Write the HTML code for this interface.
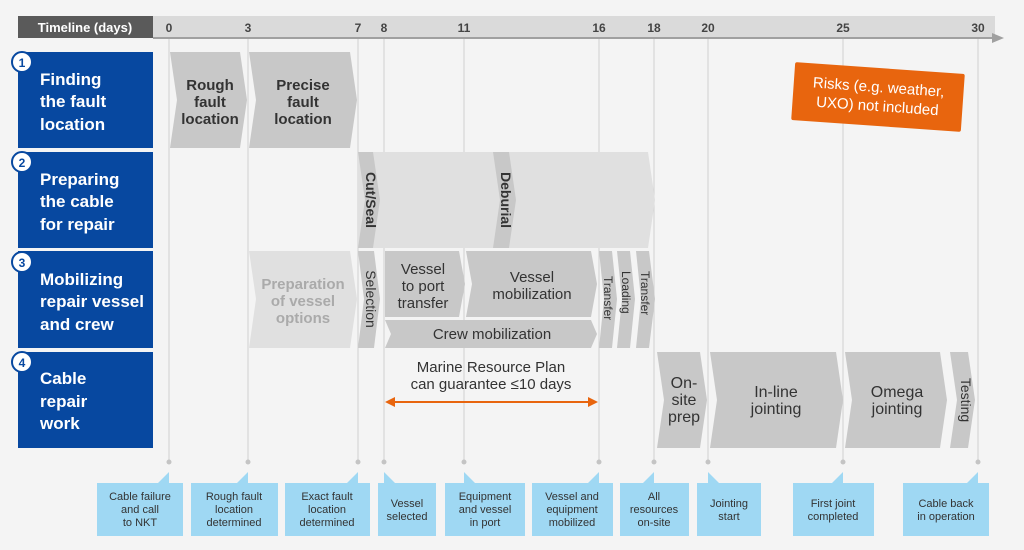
<!DOCTYPE html>
<html><head><meta charset="utf-8"><style>
html,body{margin:0;padding:0;background:#f4f4f4;}
svg{display:block;font-family:"Liberation Sans",sans-serif;}
</style></head><body>
<svg width="1024" height="550" viewBox="0 0 1024 550" xmlns="http://www.w3.org/2000/svg">
<rect width="1024" height="550" fill="#f4f4f4"/>
<!-- header -->
<rect x="153" y="16" width="842" height="22" fill="#dadada"/>
<line x1="153" y1="38" x2="995" y2="38" stroke="#a0a0a0" stroke-width="2"/>
<polygon points="992,33 1004,38 992,43" fill="#a0a0a0"/>
<rect x="18" y="16" width="135" height="22" fill="#5a5a5a"/>
<text x="85" y="32" fill="#fff" font-size="13" font-weight="bold" text-anchor="middle">Timeline (days)</text>
<g font-size="12" font-weight="bold" fill="#444" text-anchor="middle">
<text x="169" y="32">0</text><text x="248" y="32">3</text><text x="358" y="32">7</text><text x="384" y="32">8</text><text x="464" y="32">11</text><text x="599" y="32">16</text><text x="654" y="32">18</text><text x="708" y="32">20</text><text x="843" y="32">25</text><text x="978" y="32">30</text>
</g>
<!-- grid lines -->
<g stroke="#d0d0d0" stroke-width="1">
<line x1="169" y1="39" x2="169" y2="462"/><line x1="248" y1="39" x2="248" y2="462"/><line x1="358" y1="39" x2="358" y2="462"/><line x1="384" y1="39" x2="384" y2="462"/><line x1="464" y1="39" x2="464" y2="462"/><line x1="599" y1="39" x2="599" y2="462"/><line x1="654" y1="39" x2="654" y2="462"/><line x1="708" y1="39" x2="708" y2="462"/><line x1="843" y1="39" x2="843" y2="462"/><line x1="978" y1="39" x2="978" y2="462"/>
</g>
<g fill="#c4c4c4">
<circle cx="169" cy="462" r="2.5"/><circle cx="248" cy="462" r="2.5"/><circle cx="358" cy="462" r="2.5"/><circle cx="384" cy="462" r="2.5"/><circle cx="464" cy="462" r="2.5"/><circle cx="599" cy="462" r="2.5"/><circle cx="654" cy="462" r="2.5"/><circle cx="708" cy="462" r="2.5"/><circle cx="843" cy="462" r="2.5"/><circle cx="978" cy="462" r="2.5"/>
</g>
<!-- row labels -->
<g fill="#0748a0">
<rect x="18" y="52" width="135" height="96"/><rect x="18" y="152" width="135" height="96"/><rect x="18" y="251" width="135" height="97"/><rect x="18" y="352" width="135" height="96"/>
</g>
<g fill="#fff" stroke="#0748a0" stroke-width="2">
<circle cx="22" cy="62" r="10"/><circle cx="22" cy="162" r="10"/><circle cx="22" cy="262" r="10"/><circle cx="22" cy="362" r="10"/>
</g>
<g fill="#0748a0" font-size="12" font-weight="bold" text-anchor="middle">
<text x="22" y="67">1</text><text x="22" y="167">2</text><text x="22" y="267">3</text><text x="22" y="367">4</text>
</g>
<g fill="#fff" font-size="17" font-weight="bold">
<text x="40" y="85">Finding</text><text x="40" y="107">the fault</text><text x="40" y="130">location</text>
<text x="40" y="185">Preparing</text><text x="40" y="207">the cable</text><text x="40" y="230">for repair</text>
<text x="40" y="285">Mobilizing</text><text x="40" y="307">repair vessel</text><text x="40" y="330">and crew</text>
<text x="40" y="384">Cable</text><text x="40" y="407">repair</text><text x="40" y="429">work</text>
</g>
<!-- row 1 -->
<g fill="#c8c8c8">
<polygon points="170,52 240,52 247,100 240,148 170,148 177,100"/>
<polygon points="249,52 350,52 357,100 350,148 249,148 256,100"/>
</g>
<g fill="#333" font-size="15" font-weight="bold" text-anchor="middle">
<text x="210" y="90">Rough</text><text x="210" y="107">fault</text><text x="210" y="124">location</text>
<text x="303" y="90">Precise</text><text x="303" y="107">fault</text><text x="303" y="124">location</text>
</g>
<!-- row 2 -->
<polygon points="358,152 648,152 655,200 648,248 358,248" fill="#e0e0e0"/>
<polygon points="358,152 373,152 380,200 373,248 358,248 365,200" fill="#c8c8c8"/>
<polygon points="493,152 509,152 516,200 509,248 493,248 500,200" fill="#c8c8c8"/>
<g fill="#333" font-size="14" font-weight="bold" text-anchor="middle">
<text transform="translate(366,200) rotate(90)">Cut/Seal</text>
<text transform="translate(501,200) rotate(90)">Deburial</text>
</g>
<!-- row 3 -->
<polygon points="249,251 350,251 357,299 350,348 249,348 256,299" fill="#e0e0e0"/>
<g fill="#aaa" font-size="15" font-weight="bold" text-anchor="middle">
<text x="303" y="289">Preparation</text><text x="303" y="306">of vessel</text><text x="303" y="323">options</text>
</g>
<g fill="#c8c8c8">
<polygon points="358,251 374,251 380,299 374,348 358,348 364,299"/>
<polygon points="385,251 459,251 465,284 459,317 385,317"/>
<polygon points="466,251 591,251 597,284 591,317 466,317 472,284"/>
<polygon points="385,320 591,320 597,334 591,348 385,348 391,334"/>
<polygon points="599,251 612,251 617,299 612,348 599,348 604,299"/>
<polygon points="617,251 630,251 635,299 630,348 617,348 622,299"/>
<polygon points="636,251 649,251 655,299 649,348 636,348 641,299"/>
</g>
<g fill="#333" font-size="15" text-anchor="middle">
<text transform="translate(366,299) rotate(90)" font-size="14">Selection</text>
<text x="423" y="274">Vessel</text><text x="423" y="291">to port</text><text x="423" y="308">transfer</text>
<text x="532" y="282">Vessel</text><text x="532" y="299">mobilization</text>
<text x="492" y="339">Crew mobilization</text>
</g>
<g fill="#333" font-size="12">
<text transform="translate(604,276) rotate(90)">Transfer</text>
<text transform="translate(622,271) rotate(90)">Loading</text>
<text transform="translate(641,271) rotate(90)">Transfer</text>
</g>
<!-- marine plan -->
<g fill="#333" font-size="15" text-anchor="middle">
<text x="491" y="372">Marine Resource Plan</text><text x="491" y="389">can guarantee ≤10 days</text>
</g>
<line x1="392" y1="402" x2="591" y2="402" stroke="#e8650e" stroke-width="2"/>
<polygon points="385,402 395,397 395,407" fill="#e8650e"/>
<polygon points="598,402 588,397 588,407" fill="#e8650e"/>
<!-- row 4 -->
<g fill="#c8c8c8">
<polygon points="657,352 700,352 707,400 700,448 657,448 664,400"/>
<polygon points="710,352 836,352 843,400 836,448 710,448 717,400"/>
<polygon points="845,352 940,352 947,400 940,448 845,448 852,400"/>
<polygon points="950,352 968,352 975,400 968,448 950,448 957,400"/>
</g>
<g fill="#333" font-size="16" text-anchor="middle">
<text x="684" y="388">On-</text><text x="684" y="405">site</text><text x="684" y="422">prep</text>
<text x="776" y="397">In-line</text><text x="776" y="414">jointing</text>
<text x="897" y="397">Omega</text><text x="897" y="414">jointing</text>
<text transform="translate(961,400) rotate(90)" font-size="14">Testing</text>
</g>
<!-- risk -->
<g transform="translate(878,97) rotate(4)">
<rect x="-85" y="-29" width="170" height="58" rx="2" fill="#e8650e"/>
<text x="0" y="-5" fill="#fff" font-size="15" text-anchor="middle">Risks (e.g. weather,</text>
<text x="0" y="14" fill="#fff" font-size="15" text-anchor="middle">UXO) not included</text>
</g>
<!-- callouts -->
<g fill="#9fd8f3">
<rect x="97" y="483" width="86" height="53"/><polygon points="157,484 169,472 169,484"/>
<rect x="191" y="483" width="87" height="53"/><polygon points="236,484 248,472 248,484"/>
<rect x="285" y="483" width="85" height="53"/><polygon points="346,484 358,472 358,484"/>
<rect x="378" y="483" width="58" height="53"/><polygon points="384,472 384,484 396,484"/>
<rect x="445" y="483" width="80" height="53"/><polygon points="464,472 464,484 476,484"/>
<rect x="532" y="483" width="81" height="53"/><polygon points="587,484 599,472 599,484"/>
<rect x="620" y="483" width="69" height="53"/><polygon points="642,484 654,472 654,484"/>
<rect x="697" y="483" width="64" height="53"/><polygon points="708,472 708,484 720,484"/>
<rect x="793" y="483" width="81" height="53"/><polygon points="831,484 843,472 843,484"/>
<rect x="903" y="483" width="86" height="53"/><polygon points="966,484 978,472 978,484"/>
</g>
<g fill="#333" font-size="11" text-anchor="middle">
<text x="140" y="500">Cable failure</text><text x="140" y="513">and call</text><text x="140" y="526">to NKT</text>
<text x="234" y="500">Rough fault</text><text x="234" y="513">location</text><text x="234" y="526">determined</text>
<text x="327" y="500">Exact fault</text><text x="327" y="513">location</text><text x="327" y="526">determined</text>
<text x="407" y="507">Vessel</text><text x="407" y="520">selected</text>
<text x="485" y="500">Equipment</text><text x="485" y="513">and vessel</text><text x="485" y="526">in port</text>
<text x="572" y="500">Vessel and</text><text x="572" y="513">equipment</text><text x="572" y="526">mobilized</text>
<text x="654" y="500">All</text><text x="654" y="513">resources</text><text x="654" y="526">on-site</text>
<text x="729" y="507">Jointing</text><text x="729" y="520">start</text>
<text x="833" y="507">First joint</text><text x="833" y="520">completed</text>
<text x="946" y="507">Cable back</text><text x="946" y="520">in operation</text>
</g>
</svg>
</body></html>
